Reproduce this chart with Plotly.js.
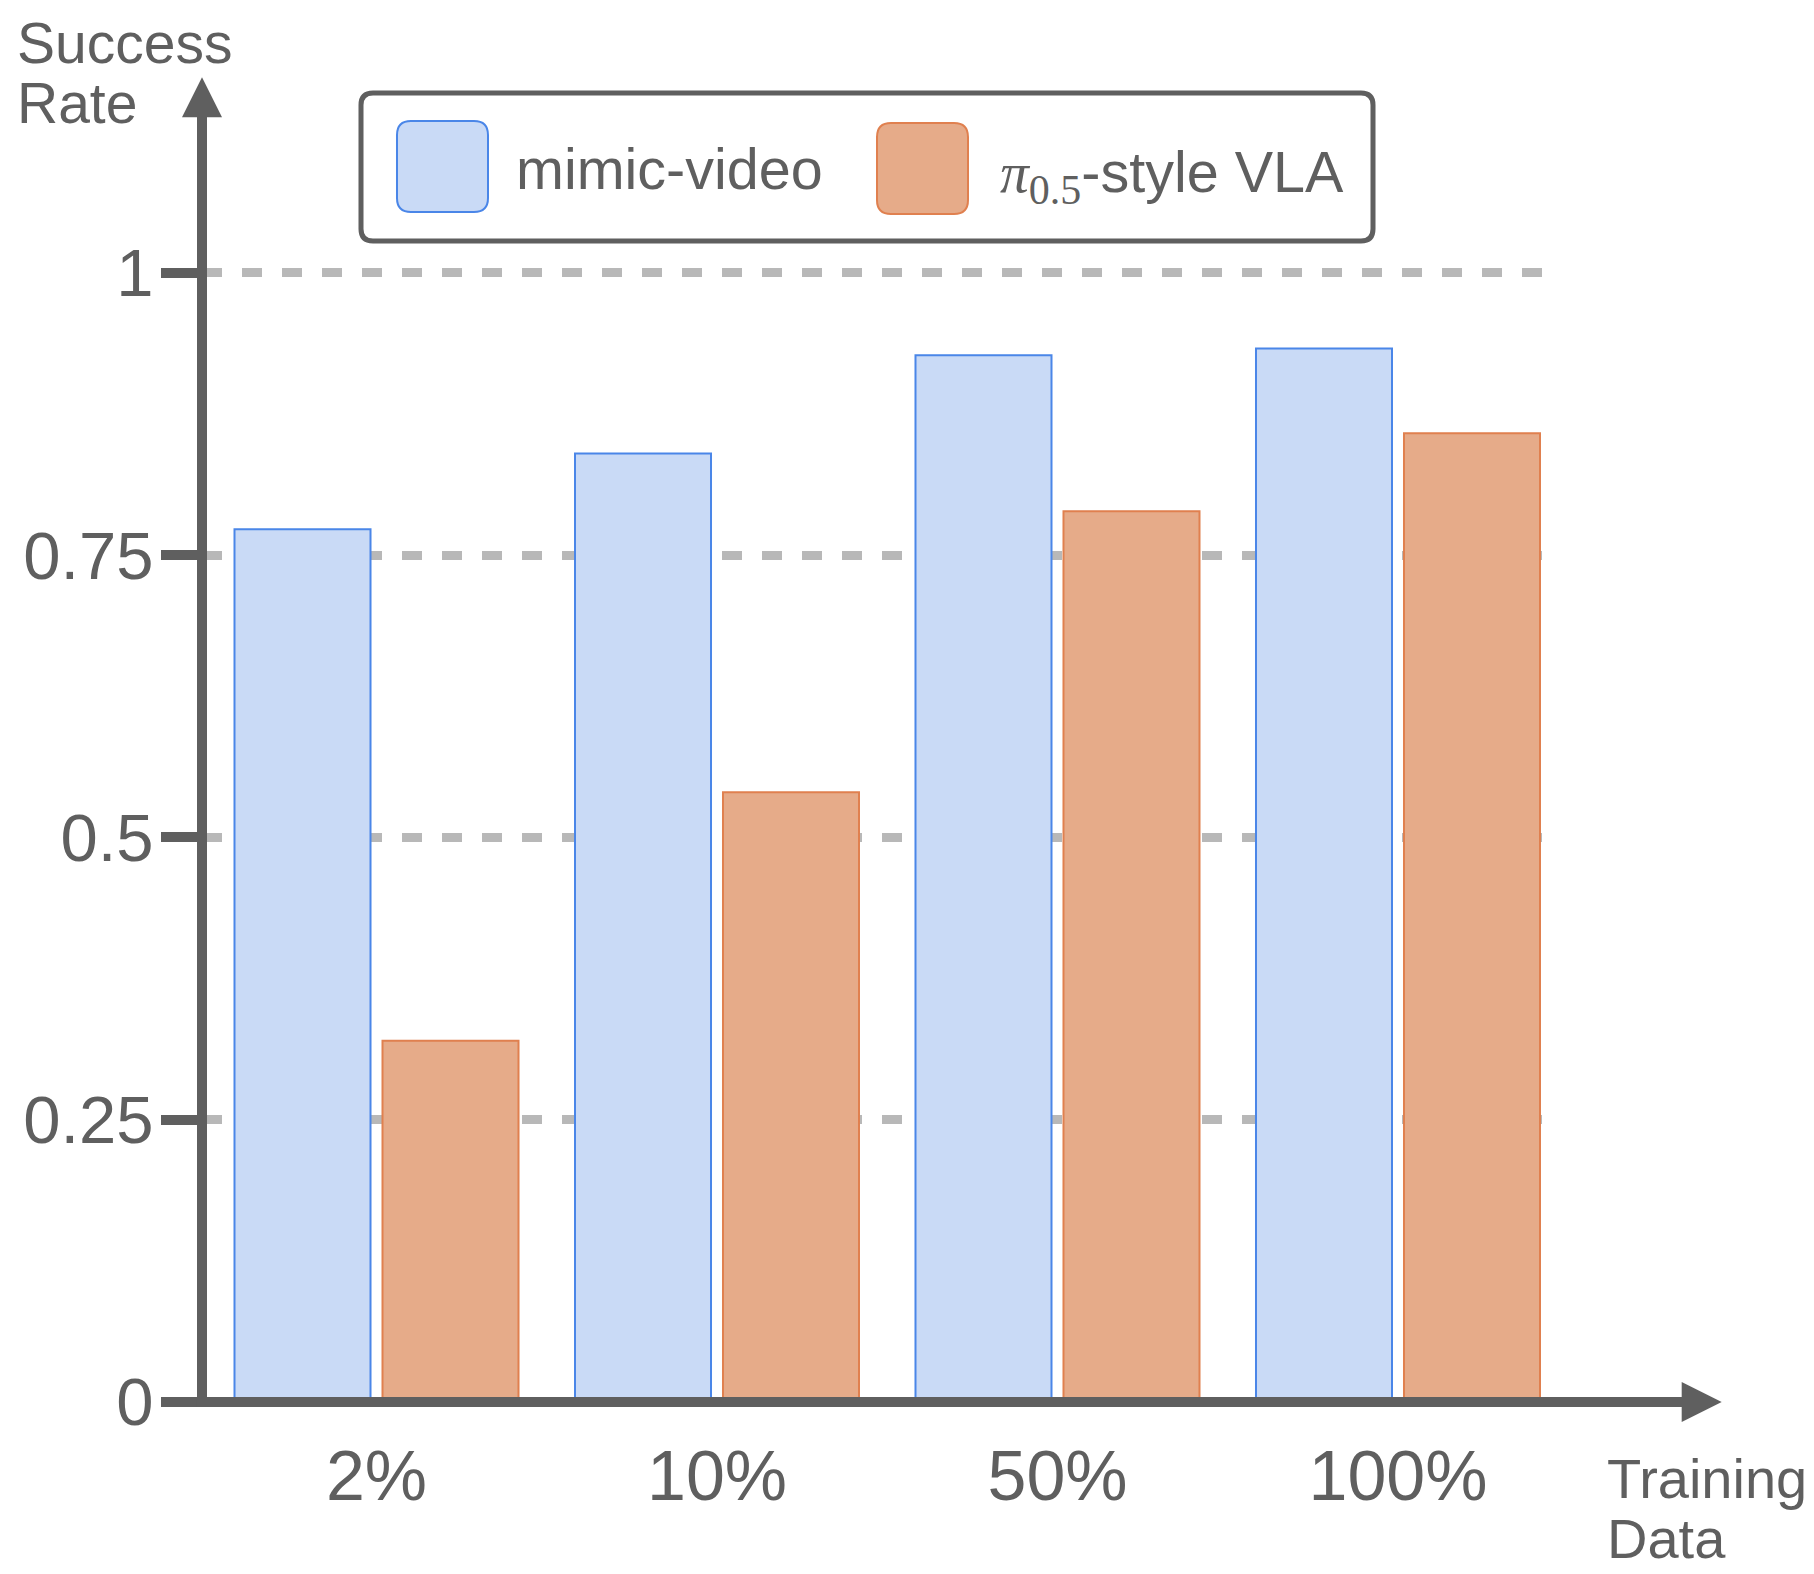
<!DOCTYPE html>
<html>
<head>
<meta charset="utf-8">
<script src="https://cdn.plot.ly/plotly-3.0.1.min.js"></script>
<style>html,body{margin:0;padding:0;background:#fff;}</style>
</head>
<body>
<div id="chart" style="width:1814px;height:1574px;"></div>
<script>
// ---- data ----
const categories = ['2%', '10%', '50%', '100%'];
const mimicVideo = [0.773, 0.84, 0.927, 0.933];
const pi05StyleVLA = [0.32, 0.54, 0.789, 0.858];
const yTickVals = [0, 0.25, 0.5, 0.75, 1];
const yTickText = ['0', '0.25', '0.5', '0.75', '1'];
const seriesNames = ['mimic-video', '\u03c0<sub>0.5</sub>-style VLA'];
const yAxisTitleLines = ['Success', 'Rate'];
const xAxisTitleLines = ['Training', 'Data'];

// ---- styling ----
const W = 1814, H = 1574;
const M = {l: 202, r: 262, t: 160, b: 172.3};
const PW = W - M.l - M.r, PH = H - M.t - M.b;
const px2x = p => (p - M.l) / PW;
const px2y = p => (H - M.b - p) / PH;
const TXT = '#5f5f5f';
const FONT = 'Liberation Sans, Arial, sans-serif';
const SERIF = 'Liberation Serif';

function rrect(x0, y0, x1, y1, r) {
  const P = (x, y) => px2x(x).toFixed(5) + ',' + px2y(y).toFixed(5);
  return 'M' + P(x0 + r, y0) + ' L' + P(x1 - r, y0) + ' Q' + P(x1, y0) + ' ' + P(x1, y0 + r) +
    ' L' + P(x1, y1 - r) + ' Q' + P(x1, y1) + ' ' + P(x1 - r, y1) +
    ' L' + P(x0 + r, y1) + ' Q' + P(x0, y1) + ' ' + P(x0, y1 - r) +
    ' L' + P(x0, y0 + r) + ' Q' + P(x0, y0) + ' ' + P(x0 + r, y0) + ' Z';
}
function tri(points) {
  return 'M' + points.map(p => px2x(p[0]).toFixed(5) + ',' + px2y(p[1]).toFixed(5)).join(' L') + ' Z';
}

const traces = [
  {type: 'bar', x: categories, y: mimicVideo, name: seriesNames[0],
   marker: {color: '#c9daf6', line: {color: '#4a86e8', width: 2}}, hoverinfo: 'skip'},
  {type: 'bar', x: categories, y: pi05StyleVLA, name: seriesNames[1],
   marker: {color: '#e6ab89', line: {color: '#e0804f', width: 2}}, hoverinfo: 'skip'}
];

const shapes = [
  // x axis line + arrow
  {type: 'line', xref: 'paper', yref: 'paper', x0: px2x(196.7), x1: px2x(1684), y0: 0, y1: 0,
   line: {color: TXT, width: 10}, layer: 'above'},
  {type: 'path', xref: 'paper', yref: 'paper', path: tri([[1681.7, 1381.7], [1721.7, 1401.7], [1681.7, 1421.7]]),
   fillcolor: TXT, line: {width: 0}, layer: 'above'},
  // y axis line + arrow
  {type: 'line', xref: 'paper', yref: 'paper', x0: 0, x1: 0, y0: px2y(1406.7), y1: px2y(114),
   line: {color: TXT, width: 10}, layer: 'above'},
  {type: 'path', xref: 'paper', yref: 'paper', path: tri([[182, 117.3], [202, 77.3], [222, 117.3]]),
   fillcolor: TXT, line: {width: 0}, layer: 'above'},
  // legend box
  {type: 'path', xref: 'paper', yref: 'paper', path: rrect(361, 93, 1373, 241, 12),
   fillcolor: '#ffffff', line: {color: TXT, width: 5}, layer: 'above'},
  {type: 'path', xref: 'paper', yref: 'paper', path: rrect(397, 121, 488, 212, 14),
   fillcolor: '#c9daf6', line: {color: '#4a86e8', width: 2}, layer: 'above'},
  {type: 'path', xref: 'paper', yref: 'paper', path: rrect(877, 123, 968, 214, 14),
   fillcolor: '#e6ab89', line: {color: '#e0804f', width: 2}, layer: 'above'}
];

function label(text, xpx, ypx, size) {
  return {xref: 'paper', yref: 'paper', x: px2x(xpx), y: px2y(ypx), xanchor: 'left', yanchor: 'middle',
          text: text, showarrow: false, align: 'left', font: {family: FONT, size: size, color: TXT}};
}

const annotations = [
  label(yAxisTitleLines[0], 15, 43, 57),
  label(yAxisTitleLines[1], 15, 103, 57),
  label(xAxisTitleLines[0], 1605, 1478, 56),
  label(xAxisTitleLines[1], 1605, 1538, 56),
  label(seriesNames[0], 514, 169, 57.5),
  label('<span style="font-family:' + SERIF + ';font-style:italic">\u03c0</span><sub><span style="font-family:' + SERIF + ';font-size:42px">0.5</span></sub>-style VLA',
        998, 176, 57.5)
];

const layout = {
  width: W, height: H, margin: M,
  paper_bgcolor: '#ffffff', plot_bgcolor: '#ffffff',
  showlegend: false, barmode: 'group', bargap: 0.1307, bargroupgap: 0.081,
  font: {family: FONT, color: TXT},
  xaxis: {type: 'category', categoryorder: 'array', categoryarray: categories,
          range: [-0.5125, 3.4523], showgrid: false, zeroline: false, showline: false,
          ticks: '', tickfont: {family: FONT, size: 70, color: TXT}, ticklabelstandoff: 27, fixedrange: true},
  yaxis: {range: [0, 1.1], tickvals: yTickVals, ticktext: yTickText,
          showgrid: true, gridcolor: '#b8b8b8', gridwidth: 9, griddash: '20px,20px',
          zeroline: false, showline: false, ticks: 'outside', ticklen: 40, tickwidth: 10, tickcolor: TXT,
          tickfont: {family: FONT, size: 67, color: TXT}, ticklabelstandoff: -6, fixedrange: true},
  shapes: shapes, annotations: annotations
};

Plotly.newPlot('chart', traces, layout, {staticPlot: true, displayModeBar: false});
</script>
</body>
</html>
